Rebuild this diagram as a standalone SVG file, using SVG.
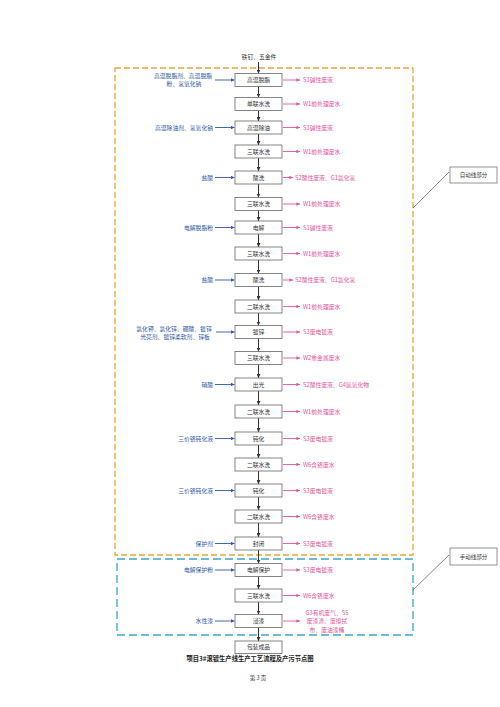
<svg xmlns="http://www.w3.org/2000/svg" width="500" height="707" viewBox="0 0 500 707">
<defs>
<marker id="ad" viewBox="0 0 6 6" refX="6" refY="3" markerWidth="4" markerHeight="4" orient="auto"><path d="M0,0L6,3L0,6z" fill="#333"/></marker>
<marker id="ab" viewBox="0 0 6 6" refX="6" refY="3" markerWidth="4" markerHeight="4" orient="auto"><path d="M0,0L6,3L0,6z" fill="#2f5aa6"/></marker>
<marker id="ap" viewBox="0 0 6 6" refX="6" refY="3" markerWidth="4" markerHeight="4" orient="auto"><path d="M0,0L6,3L0,6z" fill="#e0569d"/></marker>
</defs>
<style>
text{font-family:"Noto Sans CJK SC","Noto Sans",sans-serif;font-size:5.8px}
.n rect{fill:#fff;stroke:#666;stroke-width:0.8}
.n text{fill:#333;text-anchor:middle}
.in{fill:#2f5aa6;text-anchor:end}
.inc{fill:#2f5aa6;text-anchor:middle}
.out{fill:#e0569d}
.outc{fill:#e0569d;text-anchor:middle}
.md{stroke:#333;stroke-width:1;marker-end:url(#ad);fill:none}
.mb{stroke:#2f5aa6;stroke-width:0.9;marker-end:url(#ab);fill:none}
.mp{stroke:#e0569d;stroke-width:0.9;marker-end:url(#ap);fill:none}
.cap{fill:#222;font-weight:bold;font-size:6.3px;text-anchor:middle}
</style>
<rect width="500" height="707" fill="#fff"/>
<g id="zones">
<rect x="115" y="68" width="298" height="487" fill="none" stroke="#e9a53c" stroke-width="1.3" stroke-dasharray="6,3"/>
<rect x="117" y="559" width="296" height="76" fill="none" stroke="#3aa6cc" stroke-width="1.3" stroke-dasharray="8,4"/>
</g>
<g id="callout-auto">
<rect x="450" y="167" width="47" height="16" fill="#fff" stroke="#666" stroke-width="0.7"/>
<text x="473.5" y="177" fill="#333" text-anchor="middle" style="font-size:5.5px">自动线部分</text>
</g>
<g id="callout-manual">
<rect x="450" y="548" width="47" height="17" fill="#fff" stroke="#666" stroke-width="0.7"/>
<text x="473.5" y="558.5" fill="#333" text-anchor="middle" style="font-size:5.5px">手动线部分</text>
</g>
<text x="259" y="59" fill="#333" text-anchor="middle">铁钉、五金件</text>
<g id="connectors">
<line x1="413" y1="208" x2="449" y2="172" stroke="#555" stroke-width="0.7"/>
<line x1="413" y1="590" x2="449" y2="555" stroke="#555" stroke-width="0.7"/>
<line class="md" x1="258.5" y1="62" x2="258.5" y2="73.5"/>
<line class="md" x1="258.5" y1="86.5" x2="258.5" y2="97.5"/>
<line class="md" x1="258.5" y1="110.5" x2="258.5" y2="121"/>
<line class="md" x1="258.5" y1="134" x2="258.5" y2="145"/>
<line class="md" x1="258.5" y1="158" x2="258.5" y2="171"/>
<line class="md" x1="258.5" y1="184" x2="258.5" y2="197.5"/>
<line class="md" x1="258.5" y1="210.5" x2="258.5" y2="221"/>
<line class="md" x1="258.5" y1="234" x2="258.5" y2="247"/>
<line class="md" x1="258.5" y1="260" x2="258.5" y2="273.5"/>
<line class="md" x1="258.5" y1="286.5" x2="258.5" y2="300"/>
<line class="md" x1="258.5" y1="313" x2="258.5" y2="325.5"/>
<line class="md" x1="258.5" y1="338.5" x2="258.5" y2="351.5"/>
<line class="md" x1="258.5" y1="364.5" x2="258.5" y2="378"/>
<line class="md" x1="258.5" y1="391" x2="258.5" y2="405"/>
<line class="md" x1="258.5" y1="418" x2="258.5" y2="432"/>
<line class="md" x1="258.5" y1="445" x2="258.5" y2="458"/>
<line class="md" x1="258.5" y1="471" x2="258.5" y2="484"/>
<line class="md" x1="258.5" y1="497" x2="258.5" y2="510"/>
<line class="md" x1="258.5" y1="523" x2="258.5" y2="537"/>
<line class="md" x1="258.5" y1="550" x2="258.5" y2="563.5"/>
<line class="md" x1="258.5" y1="576.5" x2="258.5" y2="589"/>
<line class="md" x1="258.5" y1="602" x2="258.5" y2="614.5"/>
<line class="md" x1="258.5" y1="627.5" x2="258.5" y2="641"/>
<line class="mb" x1="215" y1="80" x2="234.5" y2="80"/>
<line class="mb" x1="215" y1="127.5" x2="234.5" y2="127.5"/>
<line class="mb" x1="215" y1="177.5" x2="234.5" y2="177.5"/>
<line class="mb" x1="215" y1="227.5" x2="234.5" y2="227.5"/>
<line class="mb" x1="215" y1="280" x2="234.5" y2="280"/>
<line class="mb" x1="216" y1="332" x2="234.5" y2="332"/>
<line class="mb" x1="215" y1="384.5" x2="234.5" y2="384.5"/>
<line class="mb" x1="215" y1="438.5" x2="234.5" y2="438.5"/>
<line class="mb" x1="215" y1="490.5" x2="234.5" y2="490.5"/>
<line class="mb" x1="215" y1="543.5" x2="234.5" y2="543.5"/>
<line class="mb" x1="215" y1="570" x2="234.5" y2="570"/>
<line class="mb" x1="215" y1="621" x2="234.5" y2="621"/>
<line class="mp" x1="283" y1="80" x2="300" y2="80"/>
<line class="mp" x1="283" y1="104" x2="300" y2="104"/>
<line class="mp" x1="283" y1="127.5" x2="300" y2="127.5"/>
<line class="mp" x1="283" y1="151.5" x2="300" y2="151.5"/>
<line class="mp" x1="283" y1="177.5" x2="293" y2="177.5"/>
<line class="mp" x1="283" y1="204" x2="300" y2="204"/>
<line class="mp" x1="283" y1="227.5" x2="300" y2="227.5"/>
<line class="mp" x1="283" y1="253.5" x2="300" y2="253.5"/>
<line class="mp" x1="283" y1="280" x2="293" y2="280"/>
<line class="mp" x1="283" y1="306.5" x2="300" y2="306.5"/>
<line class="mp" x1="283" y1="332" x2="300" y2="332"/>
<line class="mp" x1="283" y1="358" x2="300" y2="358"/>
<line class="mp" x1="283" y1="384.5" x2="300" y2="384.5"/>
<line class="mp" x1="283" y1="411.5" x2="300" y2="411.5"/>
<line class="mp" x1="283" y1="438.5" x2="300" y2="438.5"/>
<line class="mp" x1="283" y1="464.5" x2="300" y2="464.5"/>
<line class="mp" x1="283" y1="490.5" x2="300" y2="490.5"/>
<line class="mp" x1="283" y1="516.5" x2="300" y2="516.5"/>
<line class="mp" x1="283" y1="543.5" x2="300" y2="543.5"/>
<line class="mp" x1="283" y1="570" x2="300" y2="570"/>
<line class="mp" x1="283" y1="595.5" x2="300" y2="595.5"/>
<line class="mp" x1="283" y1="621" x2="300" y2="621"/>
</g>
<g id="n1" class="n"><rect x="235" y="73.5" width="47" height="13"/><text x="258.5" y="82">高温脱脂</text></g>
<g id="n2" class="n"><rect x="235" y="97.5" width="47" height="13"/><text x="258.5" y="106">单联水洗</text></g>
<g id="n3" class="n"><rect x="235" y="121" width="47" height="13"/><text x="258.5" y="129.5">高温除油</text></g>
<g id="n4" class="n"><rect x="235" y="145" width="47" height="13"/><text x="258.5" y="153.5">三联水洗</text></g>
<g id="n5" class="n"><rect x="235" y="171" width="47" height="13"/><text x="258.5" y="179.5">酸洗</text></g>
<g id="n6" class="n"><rect x="235" y="197.5" width="47" height="13"/><text x="258.5" y="206">三联水洗</text></g>
<g id="n7" class="n"><rect x="235" y="221" width="47" height="13"/><text x="258.5" y="229.5">电解</text></g>
<g id="n8" class="n"><rect x="235" y="247" width="47" height="13"/><text x="258.5" y="255.5">三联水洗</text></g>
<g id="n9" class="n"><rect x="235" y="273.5" width="47" height="13"/><text x="258.5" y="282">酸洗</text></g>
<g id="n10" class="n"><rect x="235" y="300" width="47" height="13"/><text x="258.5" y="308.5">二联水洗</text></g>
<g id="n11" class="n"><rect x="235" y="325.5" width="47" height="13"/><text x="258.5" y="334">镀锌</text></g>
<g id="n12" class="n"><rect x="235" y="351.5" width="47" height="13"/><text x="258.5" y="360">三联水洗</text></g>
<g id="n13" class="n"><rect x="235" y="378" width="47" height="13"/><text x="258.5" y="386.5">出光</text></g>
<g id="n14" class="n"><rect x="235" y="405" width="47" height="13"/><text x="258.5" y="413.5">二联水洗</text></g>
<g id="n15" class="n"><rect x="235" y="432" width="47" height="13"/><text x="258.5" y="440.5">钝化</text></g>
<g id="n16" class="n"><rect x="235" y="458" width="47" height="13"/><text x="258.5" y="466.5">二联水洗</text></g>
<g id="n17" class="n"><rect x="235" y="484" width="47" height="13"/><text x="258.5" y="492.5">钝化</text></g>
<g id="n18" class="n"><rect x="235" y="510" width="47" height="13"/><text x="258.5" y="518.5">二联水洗</text></g>
<g id="n19" class="n"><rect x="235" y="537" width="47" height="13"/><text x="258.5" y="545.5">封闭</text></g>
<g id="n20" class="n"><rect x="235" y="563.5" width="47" height="13"/><text x="258.5" y="572">电解保护</text></g>
<g id="n21" class="n"><rect x="235" y="589" width="47" height="13"/><text x="258.5" y="597.5">三联水洗</text></g>
<g id="n22" class="n"><rect x="235" y="614.5" width="47" height="13"/><text x="258.5" y="623">浸漆</text></g>
<g id="n23" class="n"><rect x="235" y="641" width="47" height="12.5"/><text x="258.5" y="649.3">包装成品</text></g>
<g id="inputs">
<text class="inc" x="183" y="77.5">高温脱脂剂、高温脱脂</text>
<text class="inc" x="184" y="86">粉、氢氧化钠</text>
<text class="in" x="213" y="129.5">高温除油剂、氢氧化钠</text>
<text class="in" x="213" y="179.5">盐酸</text>
<text class="in" x="213" y="229.5">电解脱脂粉</text>
<text class="in" x="213" y="282">盐酸</text>
<text class="inc" x="174" y="330.5">氯化钾、氯化锌、硼酸、镀锌</text>
<text class="inc" x="175" y="338.5">光亮剂、镀锌柔软剂、锌板</text>
<text class="in" x="213" y="386.5">硝酸</text>
<text class="in" x="213" y="440.5">三价铬钝化液</text>
<text class="in" x="213" y="492.5">三价铬钝化液</text>
<text class="in" x="213" y="545.5">保护剂</text>
<text class="in" x="213" y="572">电解保护粉</text>
<text class="in" x="213" y="623">水性漆</text>
</g>
<g id="outputs">
<text class="out" x="303" y="82">S1碱性废液</text>
<text class="out" x="303" y="106">W1前处理废水</text>
<text class="out" x="303" y="129.5">S1碱性废液</text>
<text class="out" x="303" y="153.5">W1前处理废水</text>
<text class="out" x="295" y="179.5">S2酸性废液、G1氯化氢</text>
<text class="out" x="303" y="206">W1前处理废水</text>
<text class="out" x="303" y="229.5">S1碱性废液</text>
<text class="out" x="303" y="255.5">W1前处理废水</text>
<text class="out" x="295" y="282">S2酸性废液、G1氯化氢</text>
<text class="out" x="303" y="308.5">W1前处理废水</text>
<text class="out" x="303" y="334">S3废电镀液</text>
<text class="out" x="303" y="360">W2重金属废水</text>
<text class="out" x="303" y="386.5">S2酸性废液、G4氮氧化物</text>
<text class="out" x="303" y="413.5">W1前处理废水</text>
<text class="out" x="303" y="440.5">S3废电镀液</text>
<text class="out" x="303" y="466.5">W6含铬废水</text>
<text class="out" x="303" y="492.5">S3废电镀液</text>
<text class="out" x="303" y="518.5">W6含铬废水</text>
<text class="out" x="303" y="545.5">S3废电镀液</text>
<text class="out" x="303" y="572">S3废电镀液</text>
<text class="out" x="303" y="597.5">W6含铬废水</text>
<text class="outc" x="327" y="614.5">G3有机废气、S5</text>
<text class="outc" x="327" y="623">废漆渣、废擦拭</text>
<text class="outc" x="327" y="631.5">布、废油漆桶</text>
</g>
<text class="cap" x="250" y="661">项目3#滚镀生产线生产工艺流程及产污节点图</text>
<text x="258" y="680" fill="#333" text-anchor="middle" style="font-size:5.5px">第 3 页</text>
</svg>
